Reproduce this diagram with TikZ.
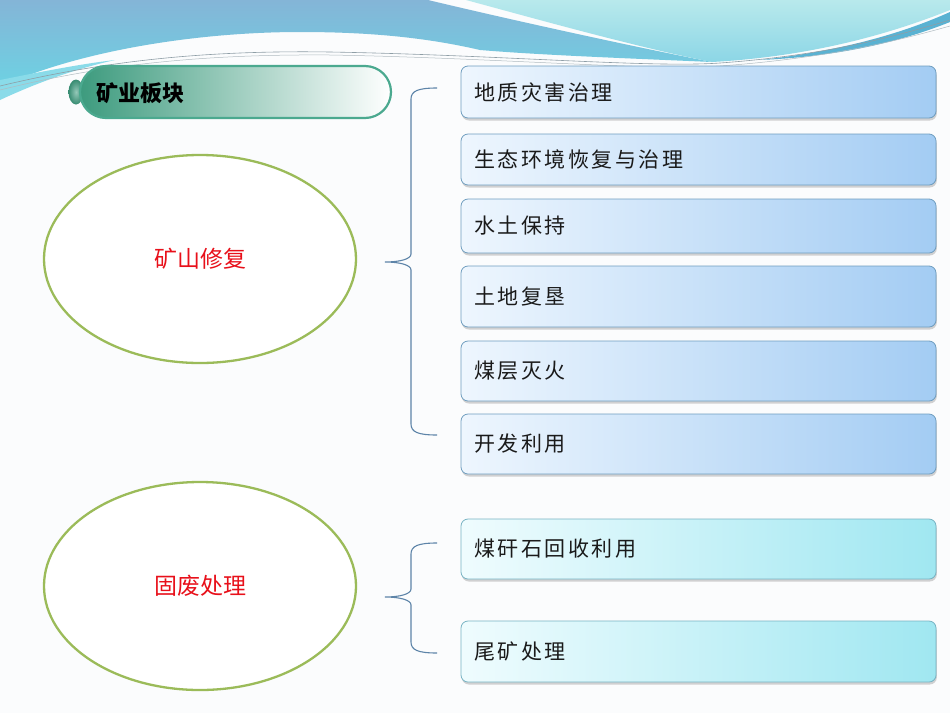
\documentclass[tikz,border=0pt]{standalone}
\usepackage{fontspec}
\setmainfont{Noto Sans CJK SC}
\newfontfamily\boxfont[LetterSpace=12]{Noto Sans CJK SC}
\usetikzlibrary{shapes.geometric,shadows}
\definecolor{bgc}{HTML}{FBFCFD}
\definecolor{wblueT}{HTML}{84B5D7}
\definecolor{wblueB}{HTML}{6DD2E3}
\definecolor{wcyanT}{HTML}{B8E9EC}
\definecolor{wcyanB}{HTML}{8CD6E6}
\definecolor{wdark}{HTML}{5AB2D2}
\definecolor{wline}{HTML}{8E9EA6}
\definecolor{tabdark}{HTML}{3D9B7E}
\definecolor{tabline}{HTML}{4BA98F}
\definecolor{bxL}{HTML}{EEF6FE}
\definecolor{bxR}{HTML}{A3CCF3}
\definecolor{bxD}{HTML}{6F9DBF}
\definecolor{cyL}{HTML}{EFFCFE}
\definecolor{cyR}{HTML}{A0E7F1}
\definecolor{cyD}{HTML}{77B3C3}
\definecolor{ellc}{HTML}{9BBB59}
\definecolor{redt}{HTML}{E8101A}
\definecolor{bracec}{HTML}{5D84A8}
\definecolor{txt}{HTML}{1A1A1A}
\tikzset{
  itembox/.style={draw=bxD, line width=0.8pt, rounded corners=7pt,
    left color=bxL, right color=bxR, minimum width=475pt,
    text width=449pt, inner xsep=13pt, inner ysep=0pt, align=left,
    text=txt, font=\boxfont\fontsize{21}{24}\selectfont,
    drop shadow={opacity=0.35, shadow xshift=0.8pt, shadow yshift=-2.5pt}},
  cyanbox/.style={itembox, draw=cyD, left color=cyL, right color=cyR},
  bigell/.style={ellipse, draw=ellc, line width=2.3pt, fill=white,
    minimum width=312pt, minimum height=208pt, text=redt,
    font=\fontsize{23}{26}\selectfont},
  bracestyle/.style={draw=bracec, line width=1.1pt}
}
\begin{document}
\begin{tikzpicture}[x=1pt,y=-1pt]
\useasboundingbox (0,0) rectangle (950,713);
\fill[bgc] (0,0) rectangle (950,713);
% header waves
\shade[top color=wblueT, bottom color=wblueB]
  (0,0) -- (428,0) .. controls (520,22) and (640,48) .. (712,62)
  .. controls (620,58) and (540,55) .. (480,50)
  .. controls (420,36) and (360,32) .. (300,32)
  .. controls (200,32) and (80,50) .. (0,87) -- cycle;
\shade[top color=wcyanT, bottom color=wcyanB]
  (466,0) -- (950,0) -- (950,10)
  .. controls (900,30) and (820,56) .. (712,62)
  .. controls (640,48) and (540,20) .. (466,0) -- cycle;
\fill[wdark] (760,60) .. controls (850,50) and (910,30) .. (950,12)
  -- (950,22) .. controls (910,38) and (850,56) .. (760,60) -- cycle;
\fill[wblueB!80!white] (0,80) .. controls (40,72) and (80,64) .. (115,60)
  .. controls (70,70) and (30,86) .. (0,100) -- cycle;
\draw[wline, line width=0.6pt] (0,86) .. controls (100,62) and (200,50) .. (330,52)
  .. controls (500,55) and (650,68) .. (720,63) .. controls (830,55) and (900,35) .. (950,20);
\draw[wline!70!white, line width=0.5pt] (0,90) .. controls (100,65) and (200,54) .. (330,55)
  .. controls (500,58) and (650,71) .. (720,66) .. controls (830,58) and (900,40) .. (950,26);
% tab
\node (knob) [ellipse, minimum width=15pt, minimum height=25pt, inner sep=0pt,
  inner color=tabdark!55!white, outer color=tabdark!90!black] at (76,92) {};
\node (tab) [draw=tabline, line width=2.2pt, rounded corners=26pt,
  minimum width=311pt, minimum height=52pt, inner sep=0pt,
  left color=tabdark, right color=white] at (235.5,92) {};
\node (tabtext) [anchor=west, inner sep=0pt, font=\bfseries\fontsize{22}{24}\selectfont, text=black]
  at (96,93) {矿业板块};
% ellipses
\node (e1) [bigell] at (200,259) {矿山修复};
\node (e2) [bigell] at (200,586) {固废处理};
% boxes
\node (b1) [itembox, minimum height=52pt] at (698.5,92) {地质灾害治理};
\node (b2) [itembox, minimum height=51pt] at (698.5,159.5) {生态环境恢复与治理};
\node (b3) [itembox, minimum height=54pt] at (698.5,226) {水土保持};
\node (b4) [itembox, minimum height=61pt] at (698.5,296.5) {土地复垦};
\node (b5) [itembox, minimum height=60pt] at (698.5,371) {煤层灭火};
\node (b6) [itembox, minimum height=60pt] at (698.5,444) {开发利用};
\node (b7) [cyanbox, minimum height=60pt] at (698.5,549) {煤矸石回收利用};
\node (b8) [cyanbox, minimum height=61pt] at (698.5,651.5) {尾矿处理};
% braces
\coordinate (t1) at (437,88);
\coordinate (tip1) at (385,262);
\coordinate (u1) at (437,435);
\coordinate (t2) at (437,543);
\coordinate (tip2) at (385,597);
\coordinate (u2) at (437,653);
\draw[bracestyle] (t1) .. controls (418,88) and (411,91) .. (411,99) -- (411,254)
  .. controls (411,259) and (400,262) .. (tip1)
  .. controls (400,262) and (411,265) .. (411,270) -- (411,424)
  .. controls (411,432) and (418,435) .. (u1);
\draw[bracestyle] (t2) .. controls (418,543) and (411,546) .. (411,554) -- (411,589)
  .. controls (411,594) and (400,597) .. (tip2)
  .. controls (400,597) and (411,600) .. (411,605) -- (411,642)
  .. controls (411,650) and (418,653) .. (u2);
\end{tikzpicture}
\end{document}
